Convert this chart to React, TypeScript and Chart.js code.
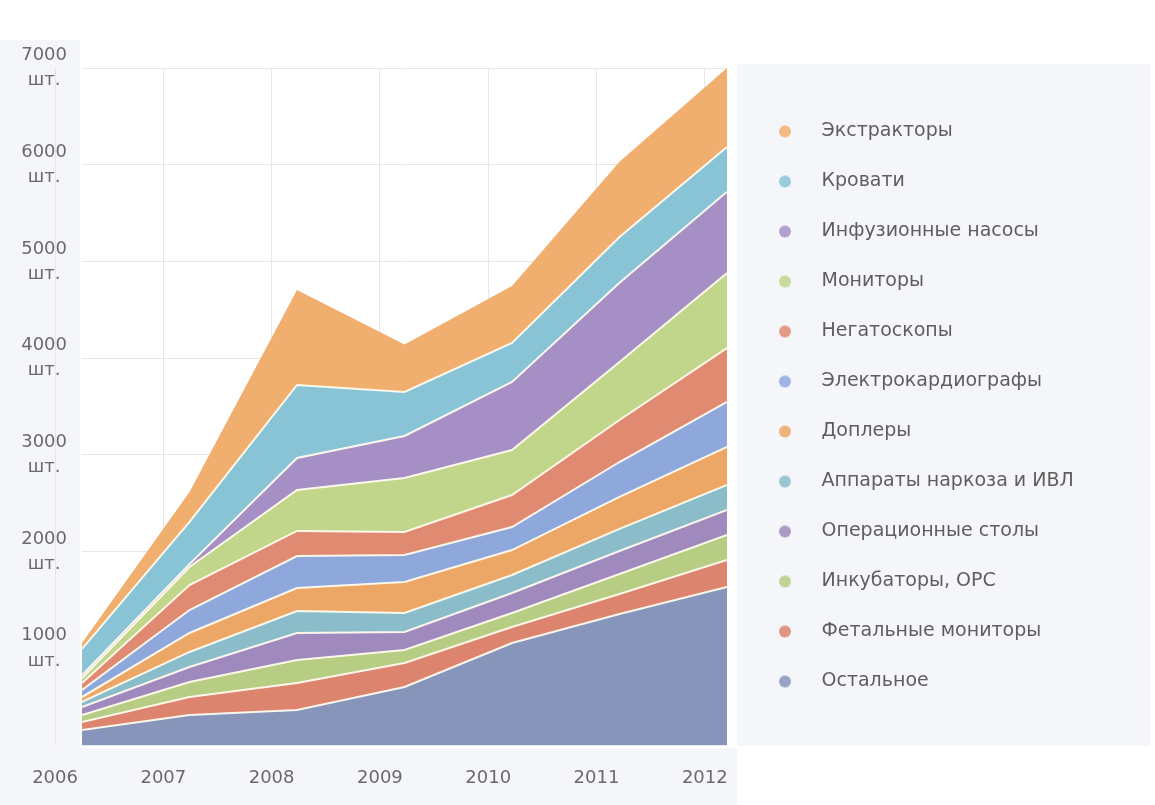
import React, { useEffect, useRef } from "react";
import { Chart, registerables } from "chart.js";

Chart.register(...registerables);

const years = [2006, 2007, 2008, 2009, 2010, 2011, 2012];
const yTicks = [0, 1000, 2000, 3000, 4000, 5000, 6000, 7000];
const unitLabel = "шт.";

// series, bottom of the stack first
const ostalnoe = [155, 310, 362, 600, 1055, 1355, 1634];
const fetalnye = [83, 186, 279, 248, 165, 206, 279];
const inkubatory = [72, 155, 238, 134, 145, 207, 259];
const operatsionnye = [83, 156, 279, 187, 207, 238, 258];
const apparaty = [52, 155, 228, 196, 186, 228, 259];
const doplery = [51, 196, 237, 321, 258, 331, 393];
const ekg = [73, 238, 331, 279, 238, 361, 465];
const negatoskopy = [72, 258, 259, 238, 331, 434, 558];
const monitory = [52, 186, 424, 558, 465, 600, 775];
const infuzionnye = [30, 30, 331, 434, 704, 820, 840];
const krovati = [270, 436, 755, 455, 403, 473, 464];
const ekstraktory = [62, 310, 982, 490, 588, 777, 816];

const seriesNames = [
  "Остальное",
  "Фетальные мониторы",
  "Инкубаторы, ОРС",
  "Операционные столы",
  "Аппараты наркоза и ИВЛ",
  "Доплеры",
  "Электрокардиографы",
  "Негатоскопы",
  "Мониторы",
  "Инфузионные насосы",
  "Кровати",
  "Экстракторы",
];
const seriesValues = [
  ostalnoe,
  fetalnye,
  inkubatory,
  operatsionnye,
  apparaty,
  doplery,
  ekg,
  negatoskopy,
  monitory,
  infuzionnye,
  krovati,
  ekstraktory,
];
const seriesColors = [
  "#8795bb",
  "#dc846d",
  "#b6cd83",
  "#9f89bd",
  "#8bbcc9",
  "#eca665",
  "#8fa8dc",
  "#e08a72",
  "#c1d68a",
  "#a68fc5",
  "#89c3d6",
  "#f0ae6f",
];

const FONT = "'DejaVu Sans', sans-serif";
const LEGEND_W = 428;

function makeDot(color: string) {
  const c = document.createElement("canvas");
  c.width = 14;
  c.height = 14;
  const g = c.getContext("2d")!;
  g.fillStyle = color;
  g.globalAlpha = 0.85;
  g.beginPath();
  g.arc(7, 7, 6, 0, Math.PI * 2);
  g.fill();
  return c;
}

const legendLayoutPlugin = {
  id: "legendLayout",
  beforeLayout(chart: any) {
    const lg = chart.legend;
    if (lg && !lg._fixedW) {
      const orig = lg.fit.bind(lg);
      lg.fit = function () {
        orig();
        this.width = LEGEND_W;
      };
      lg._fixedW = true;
    }
  },
  afterLayout(chart: any) {
    const lg = chart.legend;
    if (lg) {
      lg.top = 8;
    }
  },
};

const backgroundPlugin = {
  id: "bgPanels",
  beforeDraw(chart: any) {
    const { ctx, chartArea, width, height } = chart;
    ctx.save();
    ctx.fillStyle = "#ffffff";
    ctx.fillRect(0, 0, width, height);
    ctx.fillStyle = "#f4f6f9";
    ctx.fillRect(0, 40, chartArea.left - 2, height - 40);
    ctx.fillRect(0, chartArea.bottom + 3, chartArea.right + 10, height - chartArea.bottom - 3);
    ctx.fillRect(chartArea.right + 10, 64, width - chartArea.right - 15, chartArea.bottom + 1 - 64);
    ctx.restore();
  },
};

export default function App() {
  const ref = useRef<HTMLCanvasElement | null>(null);

  useEffect(() => {
    if (!ref.current) return;
    const dots = seriesColors.map(makeDot);
    const datasets = seriesValues.map((vals, i) => ({
      label: seriesNames[i],
      data: vals.map((v, j) => ({ x: years[j], y: v })),
      backgroundColor: seriesColors[i],
      borderColor: i === seriesValues.length - 1 ? seriesColors[i] : "rgba(255,251,238,0.95)",
      borderWidth: i === seriesValues.length - 1 ? 0 : 2,
      fill: i === 0 ? "origin" : "-1",
      pointRadius: 0,
      tension: 0,
      xAxisID: "x",
      yAxisID: "y",
    }));

    const chart = new Chart(ref.current, {
      type: "line",
      data: { datasets },
      plugins: [legendLayoutPlugin, backgroundPlugin],
      options: {
        animation: false,
        responsive: false,
        events: [],
        layout: { padding: { left: 0, right: 0, top: 68, bottom: 0 } },
        plugins: {
          tooltip: { enabled: false },
          legend: {
            position: "right",
            reverse: true,
            labels: {
              usePointStyle: true,
              pointStyleWidth: 54,
              padding: 31,
              color: "#5e5e5e",
              font: { size: 19, family: FONT },
              generateLabels: (ch: any) => {
                const items = Chart.defaults.plugins.legend.labels.generateLabels(ch);
                return items.map((it: any) => ({ ...it, pointStyle: dots[it.datasetIndex] }));
              },
            },
          },
        },
        scales: {
          x: {
            type: "linear",
            min: years[0],
            max: years[years.length - 1],
            display: false,
          },
          xl: {
            type: "linear",
            position: "bottom",
            min: 2006.249,
            max: 2012.205,
            afterBuildTicks: (scale: any) => {
              scale.ticks = years.map((v) => ({ value: v }));
            },
            afterFit: (scale: any) => {
              scale.height = 60;
            },
            border: { display: false },
            grid: { color: "#e7e7e7", lineWidth: 1, drawTicks: false },
            ticks: {
              autoSkip: false,
              maxRotation: 0,
              padding: 21,
              color: "#6a6a6a",
              font: { size: 18, family: FONT, lineHeight: 1.4 },
              callback: (v: any) => String(v),
            },
          },
          y: {
            type: "linear",
            stacked: true,
            min: yTicks[0],
            max: yTicks[yTicks.length - 1],
            afterBuildTicks: (scale: any) => {
              scale.ticks = yTicks.map((v) => ({ value: v }));
            },
            afterFit: (scale: any) => {
              scale.width = 82;
            },
            border: { display: false },
            grid: { color: "#e7e7e7", lineWidth: 1, drawTicks: false },
            ticks: {
              crossAlign: "center",
              padding: 15,
              color: "#6a6a6a",
              font: { size: 18, family: FONT, lineHeight: 1.4 },
              callback: (v: any) => (v === 0 ? "" : [String(v), unitLabel]),
            },
          },
        },
      } as any,
    });
    return () => chart.destroy();
  }, []);

  return (
    <div style={{ position: "absolute", left: 0, top: 0, width: 1155, height: 805 }}>
      <canvas ref={ref} width={1155} height={805} />
    </div>
  );
}
